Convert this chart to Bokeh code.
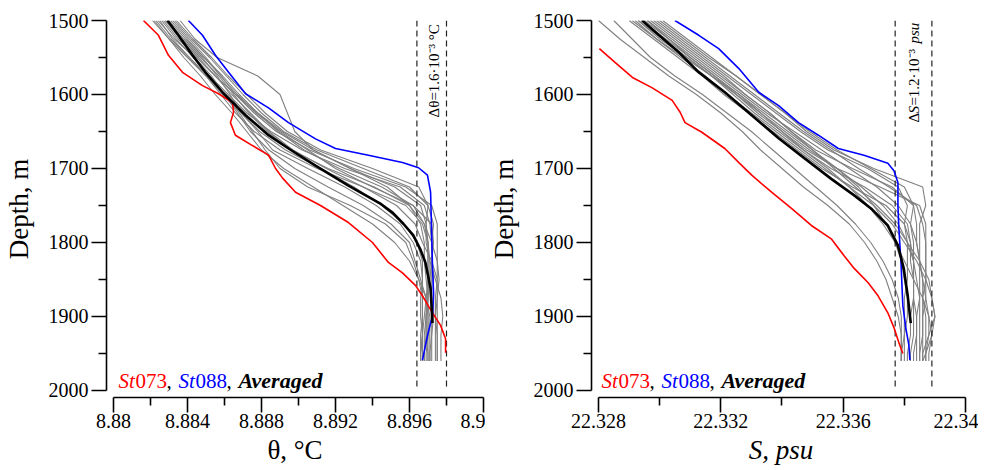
from math import pi
from bokeh.plotting import figure
from bokeh.models import Range1d, FixedTicker, NumeralTickFormatter, Label
from bokeh.layouts import row
from bokeh.embed import file_html
from bokeh.resources import INLINE

FONT = "Liberation Serif"

# ---------------- data: left panel (potential temperature) ----------------
depth_grid = [1500, 1525, 1550, 1575, 1600, 1625, 1650, 1675, 1700, 1725,
              1750, 1775, 1800, 1825, 1850, 1875, 1900, 1925, 1950, 1960]

theta_casts = [
    [8.8822, 8.8830, 8.8840, 8.8850, 8.8858, 8.8866, 8.8876, 8.8890, 8.8910, 8.8935, 8.8958, 8.8967, 8.8970, 8.8971, 8.8971, 8.8970, 8.8969, 8.8969, 8.8970, 8.8970],
    [8.8826, 8.8834, 8.8843, 8.8852, 8.8862, 8.8872, 8.8885, 8.8902, 8.8925, 8.8955, 8.8968, 8.8971, 8.8972, 8.8972, 8.8973, 8.8973, 8.8973, 8.8972, 8.8972, 8.8972],
    [8.8836, 8.8844, 8.8856, 8.8878, 8.8890, 8.8894, 8.8898, 8.8908, 8.8928, 8.8948, 8.8960, 8.8968, 8.8970, 8.8970, 8.8970, 8.8969, 8.8969, 8.8968, 8.8968, 8.8968],
    [8.8829, 8.8838, 8.8848, 8.8856, 8.8863, 8.8869, 8.8878, 8.8886, 8.8905, 8.8925, 8.8942, 8.8955, 8.8962, 8.8966, 8.8967, 8.8967, 8.8967, 8.8966, 8.8966, 8.8966],
    [8.8832, 8.8841, 8.8850, 8.8858, 8.8866, 8.8876, 8.8888, 8.8906, 8.8930, 8.8958, 8.8972, 8.8975, 8.8975, 8.8975, 8.8975, 8.8974, 8.8974, 8.8974, 8.8974, 8.8974],
    [8.8824, 8.8833, 8.8844, 8.8853, 8.8860, 8.8867, 8.8874, 8.8884, 8.8898, 8.8916, 8.8935, 8.8950, 8.8960, 8.8963, 8.8966, 8.8969, 8.8970, 8.8970, 8.8969, 8.8969],
    [8.8834, 8.8843, 8.8853, 8.8862, 8.8872, 8.8882, 8.8894, 8.8912, 8.8940, 8.8965, 8.8970, 8.8969, 8.8970, 8.8970, 8.8970, 8.8970, 8.8969, 8.8969, 8.8968, 8.8968],
    [8.8828, 8.8836, 8.8846, 8.8855, 8.8864, 8.8874, 8.8884, 8.8897, 8.8915, 8.8935, 8.8953, 8.8963, 8.8967, 8.8972, 8.8975, 8.8975, 8.8975, 8.8975, 8.8975, 8.8975],
    [8.8821, 8.8830, 8.8838, 8.8847, 8.8855, 8.8864, 8.8872, 8.8880, 8.8892, 8.8908, 8.8924, 8.8940, 8.8952, 8.8960, 8.8965, 8.8969, 8.8971, 8.8971, 8.8971, 8.8971],
    [8.8830, 8.8839, 8.8849, 8.8858, 8.8867, 8.8877, 8.8890, 8.8905, 8.8920, 8.8940, 8.8962, 8.8972, 8.8973, 8.8972, 8.8971, 8.8969, 8.8968, 8.8967, 8.8966, 8.8966],
    [8.8827, 8.8835, 8.8845, 8.8855, 8.8866, 8.8878, 8.8891, 8.8908, 8.8928, 8.8952, 8.8966, 8.8969, 8.8969, 8.8971, 8.8974, 8.8977, 8.8978, 8.8977, 8.8977, 8.8977],
    [8.8825, 8.8832, 8.8841, 8.8850, 8.8859, 8.8869, 8.8879, 8.8893, 8.8912, 8.8930, 8.8945, 8.8957, 8.8964, 8.8967, 8.8967, 8.8966, 8.8966, 8.8967, 8.8967, 8.8967],
    [8.8833, 8.8842, 8.8852, 8.8861, 8.8870, 8.8880, 8.8892, 8.8910, 8.8935, 8.8960, 8.8970, 8.8973, 8.8972, 8.8972, 8.8972, 8.8972, 8.8972, 8.8972, 8.8971, 8.8971],
    [8.8823, 8.8831, 8.8841, 8.8851, 8.8860, 8.8868, 8.8875, 8.8882, 8.8890, 8.8905, 8.8928, 8.8947, 8.8958, 8.8962, 8.8965, 8.8967, 8.8967, 8.8967, 8.8966, 8.8966],
    [8.8831, 8.8840, 8.8849, 8.8859, 8.8868, 8.8878, 8.8889, 8.8903, 8.8922, 8.8945, 8.8962, 8.8968, 8.8972, 8.8975, 8.8976, 8.8975, 8.8974, 8.8975, 8.8975, 8.8975],
    [8.8828, 8.8837, 8.8847, 8.8857, 8.8865, 8.8873, 8.8883, 8.8896, 8.8916, 8.8941, 8.8960, 8.8966, 8.8968, 8.8968, 8.8969, 8.8970, 8.8970, 8.8970, 8.8970, 8.8970],
]

depth_st073_t = [1500, 1520, 1547, 1570, 1588, 1599, 1611, 1624, 1638, 1655, 1669, 1682, 1700,
                 1713, 1732, 1750, 1773, 1800, 1827, 1841, 1858, 1872, 1895, 1912, 1930, 1949]
theta_st073 = [8.88162, 8.88243, 8.88297, 8.88373, 8.88481, 8.88568, 8.88643, 8.88649, 8.88632,
               8.88659, 8.88751, 8.88838, 8.88876, 8.88914, 8.88984, 8.89119, 8.89270, 8.89400,
               8.89486, 8.89562, 8.89632, 8.89670, 8.89724, 8.89768, 8.89795, 8.89795]

depth_st088_t = [1500, 1520, 1547, 1570, 1599, 1618, 1638, 1660, 1673, 1682, 1692, 1699, 1709,
                 1732, 1780, 1830, 1870, 1899, 1926, 1959]
theta_st088 = [8.88405, 8.88481, 8.88551, 8.88622, 8.88714, 8.88838, 8.88946, 8.89092, 8.89200,
               8.89378, 8.89562, 8.89649, 8.89697, 8.89714, 8.89719, 8.89724, 8.89730, 8.89724,
               8.89697, 8.89670]

depth_avg_t = [1500, 1520, 1547, 1570, 1597, 1628, 1655, 1673, 1696, 1723, 1747, 1760, 1775,
               1790, 1810, 1827, 1862, 1909]
theta_avg = [8.88292, 8.88351, 8.88427, 8.88497, 8.88589, 8.88714, 8.88838, 8.88946, 8.89092,
             8.89270, 8.89440, 8.89510, 8.89568, 8.89620, 8.89660, 8.89686, 8.89714, 8.89724]

theta_band = [8.8964, 8.8980]          # Δθ = 1.6·10⁻³ °C
theta_ticks = [8.88, 8.884, 8.888, 8.892, 8.896, 8.9]
theta_minor = [8.882, 8.886, 8.890, 8.894, 8.898]

# ---------------- data: right panel (salinity) ----------------
sal_casts = [
    [22.3280, 22.3287, 22.3295, 22.3303, 22.3312, 22.3320, 22.3327, 22.3333, 22.3340, 22.3347, 22.3355, 22.3362, 22.3367, 22.3371, 22.3374, 22.3376, 22.3378, 22.3379, 22.3379, 22.3379],
    [22.3285, 22.3291, 22.3297, 22.3305, 22.3314, 22.3322, 22.3330, 22.3337, 22.3344, 22.3351, 22.3358, 22.3364, 22.3369, 22.3373, 22.3376, 22.3378, 22.3379, 22.3379, 22.3379, 22.3379],
    [22.3290, 22.3298, 22.3306, 22.3314, 22.3321, 22.3329, 22.3337, 22.3345, 22.3353, 22.3363, 22.3374, 22.3380, 22.3382, 22.3382, 22.3383, 22.3383, 22.3383, 22.3383, 22.3382, 22.3382],
    [22.3293, 22.3300, 22.3309, 22.3317, 22.3325, 22.3333, 22.3340, 22.3348, 22.3358, 22.3372, 22.3385, 22.3387, 22.3387, 22.3387, 22.3387, 22.3386, 22.3386, 22.3386, 22.3385, 22.3385],
    [22.3296, 22.3304, 22.3312, 22.3320, 22.3328, 22.3336, 22.3343, 22.3351, 22.3363, 22.3376, 22.3383, 22.3384, 22.3384, 22.3385, 22.3386, 22.3387, 22.3388, 22.3388, 22.3387, 22.3387],
    [22.3298, 22.3306, 22.3314, 22.3322, 22.3330, 22.3338, 22.3346, 22.3355, 22.3368, 22.3378, 22.3381, 22.3380, 22.3381, 22.3381, 22.3381, 22.3380, 22.3380, 22.3380, 22.3380, 22.3380],
    [22.3292, 22.3299, 22.3307, 22.3315, 22.3322, 22.3330, 22.3338, 22.3346, 22.3354, 22.3362, 22.3370, 22.3376, 22.3380, 22.3384, 22.3387, 22.3389, 22.3390, 22.3389, 22.3387, 22.3386],
    [22.3300, 22.3308, 22.3316, 22.3325, 22.3333, 22.3341, 22.3348, 22.3357, 22.3370, 22.3386, 22.3387, 22.3385, 22.3385, 22.3385, 22.3385, 22.3385, 22.3384, 22.3384, 22.3383, 22.3383],
    [22.3294, 22.3302, 22.3310, 22.3318, 22.3326, 22.3333, 22.3341, 22.3349, 22.3358, 22.3366, 22.3373, 22.3378, 22.3381, 22.3383, 22.3384, 22.3385, 22.3385, 22.3385, 22.3385, 22.3385],
    [22.3297, 22.3305, 22.3313, 22.3321, 22.3328, 22.3336, 22.3343, 22.3350, 22.3358, 22.3365, 22.3370, 22.3374, 22.3377, 22.3379, 22.3380, 22.3381, 22.3381, 22.3380, 22.3379, 22.3379],
    [22.3291, 22.3299, 22.3308, 22.3317, 22.3326, 22.3334, 22.3342, 22.3350, 22.3357, 22.3364, 22.3371, 22.3377, 22.3381, 22.3385, 22.3388, 22.3389, 22.3390, 22.3388, 22.3386, 22.3386],
    [22.3299, 22.3307, 22.3315, 22.3323, 22.3331, 22.3339, 22.3347, 22.3356, 22.3365, 22.3375, 22.3384, 22.3386, 22.3387, 22.3387, 22.3387, 22.3387, 22.3386, 22.3386, 22.3386, 22.3386],
    [22.3295, 22.3303, 22.3310, 22.3318, 22.3325, 22.3332, 22.3340, 22.3347, 22.3355, 22.3362, 22.3368, 22.3373, 22.3377, 22.3380, 22.3383, 22.3386, 22.3388, 22.3389, 22.3388, 22.3388],
    [22.3293, 22.3301, 22.3309, 22.3317, 22.3324, 22.3331, 22.3339, 22.3347, 22.3356, 22.3367, 22.3376, 22.3381, 22.3382, 22.3383, 22.3383, 22.3383, 22.3382, 22.3382, 22.3381, 22.3381],
    [22.3301, 22.3309, 22.3317, 22.3325, 22.3333, 22.3341, 22.3349, 22.3358, 22.3369, 22.3380, 22.3383, 22.3382, 22.3383, 22.3383, 22.3383, 22.3383, 22.3384, 22.3384, 22.3384, 22.3384],
    [22.3296, 22.3303, 22.3311, 22.3319, 22.3327, 22.3335, 22.3344, 22.3353, 22.3362, 22.3371, 22.3378, 22.3382, 22.3384, 22.3385, 22.3386, 22.3386, 22.3387, 22.3387, 22.3387, 22.3387],
]

depth_st073_s = [1538, 1557, 1577, 1591, 1608, 1624, 1638, 1651, 1673, 1692, 1709, 1732, 1754,
                 1777, 1795, 1818, 1835, 1854, 1872, 1895, 1915, 1935, 1950]
sal_st073 = [22.32803, 22.32855, 22.32911, 22.32976, 22.33041, 22.33067, 22.33083, 22.33138,
             22.33213, 22.33259, 22.33301, 22.33366, 22.33431, 22.33496, 22.33561, 22.33603,
             22.33636, 22.33681, 22.33714, 22.33746, 22.33766, 22.33782, 22.33795]

depth_st088_s = [1500, 1520, 1538, 1565, 1597, 1615, 1638, 1655, 1673, 1682, 1693, 1703, 1719,
                 1750, 1780, 1827, 1885, 1916, 1939, 1959]
sal_st088 = [22.33050, 22.33128, 22.33193, 22.33259, 22.33324, 22.33389, 22.33454, 22.33519,
             22.33584, 22.33668, 22.33746, 22.33766, 22.33779, 22.33779, 22.33782, 22.33789,
             22.33795, 22.33805, 22.33815, 22.33818]

depth_avg_s = [1500, 1520, 1543, 1570, 1597, 1628, 1659, 1686, 1714, 1736, 1754, 1777, 1804,
               1835, 1872, 1909]
sal_avg = [22.32943, 22.32998, 22.33063, 22.33128, 22.33213, 22.33301, 22.33389, 22.33473,
           22.33561, 22.33635, 22.33691, 22.33746, 22.33779, 22.33798, 22.33811, 22.33821]

sal_band = [22.3377, 22.3389]          # ΔS = 1.2·10⁻³ psu
sal_ticks = [22.328, 22.332, 22.336, 22.34]
sal_minor = [22.330, 22.334, 22.338]

depth_ticks = [1500, 1600, 1700, 1800, 1900, 2000]
depth_minor = [1550, 1650, 1750, 1850, 1950]
depth_span = [1500, 2000]

GRAY = "#808080"


def make_panel(x_range, ticks, minor, width, border_left, border_right, xtitle, xstyle):
    p = figure(width=width, height=470, output_backend="svg", toolbar_location=None,
               x_range=x_range, y_range=Range1d(2009.46, 1500),
               min_border_left=border_left, min_border_right=border_right,
               min_border_top=20, min_border_bottom=73)
    p.grid.visible = False
    p.outline_line_color = None
    p.background_fill_color = "white"
    p.border_fill_color = "white"
    for ax in (p.xaxis[0], p.yaxis[0]):
        ax.axis_line_width = 1.6
        ax.axis_line_color = "black"
        ax.major_tick_line_width = 1.6
        ax.minor_tick_line_width = 1.6
        ax.major_tick_out = 15
        ax.major_tick_in = 0
        ax.minor_tick_out = 8
        ax.minor_tick_in = 0
        ax.major_label_text_font = FONT
        ax.major_label_text_font_size = "20px"
        ax.major_label_text_color = "black"
        ax.axis_label_text_font = FONT
        ax.axis_label_text_font_size = "27px"
        ax.axis_label_text_font_style = "normal"
        ax.axis_label_text_color = "black"
    p.xaxis.ticker = FixedTicker(ticks=ticks, minor_ticks=minor)
    p.xaxis.formatter = NumeralTickFormatter(format="0.[000]")
    p.xaxis.bounds = (ticks[0], ticks[-1])
    p.xaxis.major_label_standoff = 1
    p.xaxis.axis_label = xtitle
    p.xaxis.axis_label_text_font_style = xstyle
    p.xaxis.axis_label_standoff = 4
    p.yaxis.ticker = FixedTicker(ticks=depth_ticks, minor_ticks=depth_minor)
    p.yaxis.formatter = NumeralTickFormatter(format="0")
    p.yaxis.bounds = (depth_ticks[0], depth_ticks[-1])
    p.yaxis.major_label_standoff = 3
    p.yaxis.axis_label = "Depth, m"
    p.yaxis.axis_label_standoff = 12
    return p


def seg_label(p, x, y, text, color, xoff, style="normal", size="21px", angle=0.0, yoff=0,
              align="left", baseline="alphabetic"):
    p.add_layout(Label(x=x, y=y, x_offset=xoff, y_offset=yoff, text=text, angle=angle,
                       text_font=FONT, text_font_size=size, text_font_style=style,
                       text_color=color, text_align=align, text_baseline=baseline))


def legend(p, x, y):
    seg_label(p, x, y, "St", "red", 0, "italic")
    seg_label(p, x, y, "073", "red", 17)
    seg_label(p, x, y, ",", "black", 48)
    seg_label(p, x, y, "St", "blue", 60, "italic")
    seg_label(p, x, y, "088", "blue", 77)
    seg_label(p, x, y, ",", "black", 108)
    seg_label(p, x, y, "Averaged", "black", 120, "bold italic", "22px")


# ---------------- left panel ----------------
kx1 = 0.004 / 74.0
x1_start = theta_ticks[0] - 7 * kx1
p1 = make_panel(Range1d(x1_start, x1_start + 377 * kx1), theta_ticks, theta_minor, 485, 106, 2,
                "θ, °C", "normal")
for cast in theta_casts:
    p1.line(cast, depth_grid, line_color=GRAY, line_width=1.1)
p1.segment(x0=theta_band, y0=[depth_span[0]] * 2, x1=theta_band, y1=[depth_span[1]] * 2,
           line_color="#222222", line_width=1.2, line_dash="6 4")
p1.line(theta_st073, depth_st073_t, line_color="red", line_width=1.6)
p1.line(theta_st088, depth_st088_t, line_color="blue", line_width=1.6)
p1.line(theta_avg, depth_avg_t, line_color="black", line_width=2.6)
legend(p1, theta_ticks[0] + 5 * kx1, 1986.5)
seg_label(p1, theta_ticks[0] + 320 * kx1, 1631, "Δθ=1.6·10⁻³ °C", "black", 0,
          size="15px", angle=pi / 2, baseline="middle")

# ---------------- right panel ----------------
kx2 = 0.004 / 123.0
x2_start = sal_ticks[0] - 7 * kx2
p2 = make_panel(Range1d(x2_start, x2_start + 381 * kx2), sal_ticks, sal_minor, 493, 104, 8,
                "S, psu", "italic")
for cast in sal_casts:
    p2.line(cast, depth_grid, line_color=GRAY, line_width=1.1)
p2.segment(x0=sal_band, y0=[depth_span[0]] * 2, x1=sal_band, y1=[depth_span[1]] * 2,
           line_color="#222222", line_width=1.2, line_dash="6 4")
p2.line(sal_st073, depth_st073_s, line_color="red", line_width=1.6)
p2.line(sal_st088, depth_st088_s, line_color="blue", line_width=1.6)
p2.line(sal_avg, depth_avg_s, line_color="black", line_width=2.6)
legend(p2, sal_ticks[0] + 3 * kx2, 1986.5)
ax2 = sal_ticks[0] + 317 * kx2
seg_label(p2, ax2, 1638, "Δ", "black", 0, size="15px", angle=pi / 2, baseline="middle")
seg_label(p2, ax2, 1638, "S", "black", 0, style="italic", size="15px", angle=pi / 2,
          yoff=9, baseline="middle")
seg_label(p2, ax2, 1638, "=1.2·10⁻³", "black", 0, size="15px", angle=pi / 2, yoff=17,
          baseline="middle")
seg_label(p2, ax2, 1638, "psu", "black", 0, style="italic", size="15px", angle=pi / 2,
          yoff=79, baseline="middle")

layout = row(p1, p2)
open("out.html", "w").write(file_html(layout, INLINE))
